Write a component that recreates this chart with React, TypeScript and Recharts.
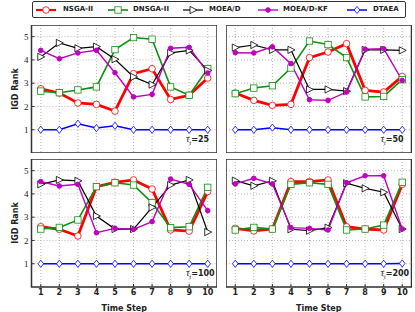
import { LineChart, Line, XAxis, YAxis, CartesianGrid, ReferenceArea } from "recharts";

const steps = [1, 2, 3, 4, 5, 6, 7, 8, 9, 10];
const yTicks = [1, 2, 3, 4, 5];

// tau_t = 25
const nsga25 = [2.76, 2.58, 2.15, 2.09, 1.8, 3.41, 3.62, 2.3, 2.48, 3.22];
const dnsga25 = [2.66, 2.59, 2.71, 2.84, 4.44, 4.96, 4.89, 2.84, 2.48, 3.62];
const moead25 = [4.13, 4.73, 4.5, 4.57, 4.03, 3.27, 2.94, 4.3, 4.41, 3.55];
const kf25 = [4.41, 4.05, 4.3, 4.41, 3.45, 2.41, 2.52, 4.5, 4.54, 3.44];
const dtaea25 = [1.0, 1.0, 1.26, 1.07, 1.17, 1.0, 1.0, 1.0, 1.0, 1.0];

// tau_t = 50
const nsga50 = [2.58, 2.26, 2.05, 2.09, 4.1, 4.34, 4.7, 2.69, 2.62, 3.29];
const dnsga50 = [2.55, 2.79, 2.89, 3.65, 4.81, 4.66, 4.1, 2.41, 2.43, 3.15];
const moead50 = [4.53, 4.64, 4.43, 4.43, 2.73, 2.73, 2.66, 4.43, 4.43, 4.41];
const kf50 = [4.31, 4.3, 4.56, 3.84, 2.29, 2.26, 2.62, 4.46, 4.48, 3.12];
const dtaea50 = [1.0, 1.0, 1.09, 1.0, 1.0, 1.0, 1.0, 1.0, 1.0, 1.0];

// tau_t = 100
const nsga100 = [2.59, 2.48, 2.19, 4.31, 4.5, 4.6, 4.21, 2.45, 2.4, 4.1];
const dnsga100 = [2.49, 2.56, 2.88, 4.31, 4.48, 4.38, 3.62, 2.55, 2.59, 4.28];
const moead100 = [4.41, 4.6, 4.56, 3.05, 2.49, 2.49, 3.42, 4.38, 4.6, 2.36];
const kf100 = [4.53, 4.34, 4.41, 2.33, 2.52, 2.48, 2.81, 4.64, 4.41, 3.28];
const dtaea100 = [1.0, 1.0, 1.0, 1.0, 1.0, 1.0, 1.0, 1.0, 1.0, 1.0];

// tau_t = 200
const nsga200 = [2.52, 2.41, 2.49, 4.53, 4.53, 4.6, 2.59, 2.49, 2.45, 4.41];
const dnsga200 = [2.45, 2.56, 2.49, 4.41, 4.48, 4.41, 2.45, 2.49, 2.66, 4.5];
const moead200 = [4.57, 4.35, 4.56, 2.48, 2.42, 2.55, 4.46, 4.24, 4.07, 2.49];
const kf200 = [4.43, 4.67, 4.43, 2.55, 2.52, 2.45, 4.48, 4.78, 4.78, 2.49];
const dtaea200 = [1.0, 1.0, 1.0, 1.0, 1.0, 1.0, 1.0, 1.0, 1.0, 1.01];

const series = [
  { key: "nsga", name: "NSGA-II", color: "#ff0000", width: 2.8, shape: "circle" },
  { key: "dnsga", name: "DNSGA-II", color: "#109010", width: 1.6, shape: "square" },
  { key: "moead", name: "MOEA/D", color: "#000000", width: 1.2, shape: "tri" },
  { key: "kf", name: "MOEA/D-KF", color: "#c000c0", width: 1.4, shape: "dot" },
  { key: "dtaea", name: "DTAEA", color: "#0000ff", width: 1.5, shape: "diamond" },
];

function build(n: number[], d: number[], m: number[], k: number[], t: number[]) {
  return steps.map((s, i) => ({ step: s, nsga: n[i], dnsga: d[i], moead: m[i], kf: k[i], dtaea: t[i] }));
}

const panels = [
  { tau: "25", data: build(nsga25, dnsga25, moead25, kf25, dtaea25), col: 0, row: 0 },
  { tau: "50", data: build(nsga50, dnsga50, moead50, kf50, dtaea50), col: 1, row: 0 },
  { tau: "100", data: build(nsga100, dnsga100, moead100, kf100, dtaea100), col: 0, row: 1 },
  { tau: "200", data: build(nsga200, dnsga200, moead200, kf200, dtaea200), col: 1, row: 1 },
];

function Marker({ shape, color, cx, cy }: { shape: string; color: string; cx: number; cy: number }) {
  if (shape === "circle")
    return <circle cx={cx} cy={cy} r={3.3} fill="#fff" stroke={color} strokeWidth={0.8} />;
  if (shape === "square")
    return <rect x={cx - 3.2} y={cy - 3.2} width={6.4} height={6.4} fill="#fff" stroke={color} strokeWidth={0.8} />;
  if (shape === "tri")
    return (
      <polygon
        points={`${cx + 4},${cy} ${cx - 3},${cy - 3.6} ${cx - 3},${cy + 3.6}`}
        fill="#fff"
        stroke={color}
        strokeWidth={0.8}
      />
    );
  if (shape === "dot") return <circle cx={cx} cy={cy} r={2.3} fill={color} stroke={color} />;
  return (
    <polygon
      points={`${cx},${cy - 3.6} ${cx + 2.8},${cy} ${cx},${cy + 3.6} ${cx - 2.8},${cy}`}
      fill="#fff"
      stroke={color}
      strokeWidth={0.8}
    />
  );
}

const dotFor = (shape: string, color: string) => (p: any) => {
  if (p.cx == null || p.cy == null) return <g key={p.index} />;
  return (
    <g key={p.index}>
      <Marker shape={shape} color={color} cx={p.cx} cy={p.cy} />
    </g>
  );
};

const plotW = 185.5;
const plotH = 128;
const colLeft = [0, 226];
const rowTop = [25, 159];

function Panel({ tau, data, col, row }: { tau: string; data: any[]; col: number; row: number }) {
  const yw = col === 0 ? 31.5 : 0;
  const xh = row === 1 ? 25 : 0;
  const left = colLeft[col];
  const top = rowTop[row];
  return (
    <div style={{ position: "absolute", left, top }}>
      <LineChart width={yw + plotW} height={plotH + xh} data={data} margin={{ top: 0, right: 0, bottom: 0, left: 0 }}>
        <CartesianGrid stroke="#999" strokeDasharray="1 2" strokeWidth={0.7} />
        <XAxis
          dataKey="step"
          type="number"
          domain={[0.5, 10.5]}
          ticks={steps}
          height={xh}
          axisLine={false}
          tickSize={-3}
          tickMargin={5}
          tickLine={{ stroke: "#333" }}
          tick={{ fontSize: 8, fontFamily: "DejaVu Sans", fontWeight: "bold", fill: "#222" }}
          tickFormatter={(v) => (row === 1 ? String(v) : "")}
          label={
            row === 1
              ? { value: "Time Step", position: "insideBottom", offset: 1, style: { fontSize: 8, fontFamily: "DejaVu Sans", fontWeight: "bold", fill: "#222" } }
              : undefined
          }
        />
        <XAxis
          xAxisId="t"
          orientation="top"
          type="number"
          domain={[0.5, 10.5]}
          ticks={steps}
          height={0}
          axisLine={false}
          tickSize={-3}
          tickLine={{ stroke: "#333" }}
          tickFormatter={() => ""}
        />
        <YAxis
          type="number"
          domain={[0, 5.5]}
          ticks={yTicks}
          width={yw}
          axisLine={false}
          tickSize={-3}
          tickMargin={6}
          tickLine={{ stroke: "#333" }}
          tick={{ fontSize: 9, fontFamily: "Liberation Serif", fill: "#222" }}
          tickFormatter={(v) => (col === 0 ? String(v) : "")}
          label={
            col === 0
              ? { value: "IGD Rank", angle: -90, position: "insideLeft", offset: 15, style: { textAnchor: "middle", fontSize: 8, fontFamily: "DejaVu Sans", fontWeight: "bold", fill: "#222" } }
              : undefined
          }
        />
        <YAxis
          yAxisId="r"
          orientation="right"
          type="number"
          domain={[0, 5.5]}
          ticks={yTicks}
          width={0}
          axisLine={false}
          tickSize={-3}
          tickLine={{ stroke: "#333" }}
          tickFormatter={() => ""}
        />
        <ReferenceArea x1={0.5} x2={10.5} y1={0} y2={5.5} fill="none" stroke="#333" strokeWidth={1.5} />
        {series.map((s) => (
          <Line
            key={s.key}
            dataKey={s.key}
            name={s.name}
            stroke={s.color}
            strokeWidth={s.width}
            dot={dotFor(s.shape, s.color)}
            isAnimationActive={false}
          />
        ))}
      </LineChart>
      <div
        style={{
          position: "absolute",
          left: yw + 154.5,
          top: plotH - 15 - 5,
          whiteSpace: "nowrap",
          fontSize: 8,
          lineHeight: "12px",
          color: "#222",
        }}
      >
        <span style={{ fontFamily: "Liberation Serif", fontStyle: "italic", fontSize: 10 }}>τ</span>
        <sub style={{ fontFamily: "Liberation Serif", fontStyle: "italic", fontSize: 6 }}>t</sub>
        <span style={{ fontFamily: "DejaVu Sans", fontWeight: "bold" }}>={tau}</span>
      </div>
    </div>
  );
}

const legendPos = [
  { icon: 36, text: 63 },
  { icon: 108, text: 133 },
  { icon: 183, text: 209 },
  { icon: 258, text: 283 },
  { icon: 347, text: 373 },
];

function Legend() {
  return (
    <div
      style={{
        position: "absolute",
        left: 32,
        top: 1,
        width: 372,
        height: 15,
        border: "1px solid #333",
        borderRadius: 2,
        background: "#fff",
      }}
    >
      {series.map((s, i) => (
        <div key={s.key}>
          <svg
            width={20}
            height={10}
            style={{ position: "absolute", left: legendPos[i].icon - 33, top: 2.5 }}
          >
            <line x1={0} y1={5} x2={20} y2={5} stroke={s.color} strokeWidth={Math.min(s.width, 2.2)} />
            <Marker shape={s.shape} color={s.color} cx={10} cy={5} />
          </svg>
          <span
            style={{
              position: "absolute",
              left: legendPos[i].text - 33,
              top: 2,
              fontFamily: "DejaVu Sans",
              fontWeight: "bold",
              fontSize: 7,
              lineHeight: "11px",
              color: "#222",
              whiteSpace: "nowrap",
            }}
          >
            {s.name}
          </span>
        </div>
      ))}
    </div>
  );
}

export default function App() {
  return (
    <div style={{ position: "absolute", left: 0, top: 0, width: 415, height: 312, background: "#fff" }}>
      <Legend />
      {panels.map((p) => (
        <Panel key={p.tau} {...p} />
      ))}
    </div>
  );
}
